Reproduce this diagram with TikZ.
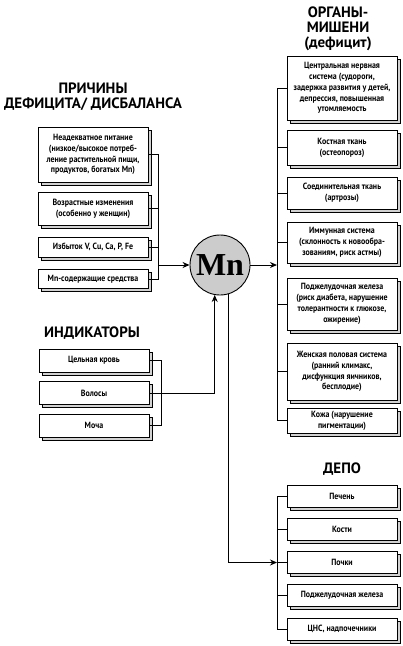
\documentclass[tikz,border=0pt]{standalone}
\usepackage{fontspec}
\setmainfont{PT Sans}
\newfontfamily\boxfont[FakeStretch=0.88]{PT Sans}
\newfontfamily\mnfont{Liberation Serif}
\usetikzlibrary{shadows,arrows.meta}
\tikzset{
  box/.style={draw, line width=0.8pt, fill=white, minimum width=110pt, align=center,
    inner sep=1pt, font=\boxfont\bfseries\fontsize{9}{10.8}\selectfont,
    copy shadow={shadow xshift=3pt, shadow yshift=-3pt, fill=gray!35, draw=black, line width=0.8pt}},
  title/.style={font=\bfseries\fontsize{15}{15}\selectfont, align=center},
  link/.style={line width=1pt},
  arrow/.style={link, -{Stealth[length=7pt,width=6pt]}}
}
\begin{document}
\begin{tikzpicture}[x=1pt, y=-1pt]
    \useasboundingbox (0,0) rectangle (403,646);

    % 見出し
    \node[title] (tcause) at (93,97) {ПРИЧИНЫ\\ДЕФИЦИТА/ ДИСБАЛАНСА};
    \node[title] (torgan) at (338,29) {ОРГАНЫ-\\МИШЕНИ\\(дефицит)};
    \node[title] (tind) at (92,333) {ИНДИКАТОРЫ};
    \node[title] (tdepot) at (342,469) {ДЕПО};

    % 中心
    \node[circle, draw, line width=0.9pt, fill=gray!40, minimum size=60pt, inner sep=0pt,
      font=\mnfont\bfseries\fontsize{32}{32}\selectfont] (mn) at (220,265) {Mn};

    % 原因
    \node[box, minimum height=55pt] (c1) at (93,154.5) {Неадекватное питание\\(низкое/высокое потреб-\\ление растительной пищи,\\продуктов, богатых Mn)};
    \node[box, minimum height=33pt] (c2) at (93,208.5) {Возрастные изменения\\(особенно у женщин)};
    \node[box, minimum height=20pt] (c3) at (93,247) {Избыток V, Cu, Ca, P, Fe};
    \node[box, minimum height=19pt] (c4) at (93,279) {Mn-содержащие средства};

    % 標的臓器
    \node[box, minimum height=64pt] (o1) at (342,88) {Центральная нервная\\система (судороги,\\задержка развития у детей,\\депрессия, повышенная\\утомляемость};
    \node[box, minimum height=35pt] (o2) at (342,147.5) {Костная ткань\\(остеопороз)};
    \node[box, minimum height=32pt] (o3) at (342,193) {Соединительная ткань\\(артрозы)};
    \node[box, minimum height=41pt] (o4) at (342,242.5) {Иммунная система\\(склонность к новообра-\\зованиям, риск астмы)};
    \node[box, minimum height=52pt] (o5) at (342,304) {Поджелудочная железа\\(риск диабета, нарушение\\толерантности к глюкозе,\\ожирение)};
    \node[box, minimum height=57pt] (o6) at (342,371.5) {Женская половая система\\(ранний климакс,\\дисфункция яичников,\\бесплодие)};
    \node[box, minimum height=25pt] (o7) at (342,420.5) {Кожа (нарушение\\пигментации)};

    % 指標
    \node[box, minimum height=23pt] (i1) at (94,360.5) {Цельная кровь};
    \node[box, minimum height=23pt] (i2) at (94,393) {Волосы};
    \node[box, minimum height=23pt] (i3) at (94,425.5) {Моча};

    % 貯蔵
    \node[box, minimum height=22pt] (d1) at (342,496) {Печень};
    \node[box, minimum height=22pt] (d2) at (342,529) {Кости};
    \node[box, minimum height=22pt] (d3) at (342,562.5) {Почки};
    \node[box, minimum height=22pt] (d4) at (342,595.5) {Поджелудочная железа};
    \node[box, minimum height=22pt] (d5) at (342,629) {ЦНС, надпочечники};

    \coordinate (cbus) at (158,265);
    \coordinate (obus) at (277,265);
    \coordinate (ibus) at (161,393);
    \coordinate (dbus) at (277,562.5);

    % 線を引く
    \draw[link] (c1.east) -- (c1.east -| cbus) -- (c4.east -| cbus) -- (c4.east);
    \foreach \n in {c2,c3}
      \draw[link] (\n.east) -- (\n.east -| cbus);
    \draw[arrow] (cbus) -- (mn.west);

    \draw[arrow] (mn.east) -- (obus);
    \draw[link] (o1.west -| obus) -- (o7.west -| obus);
    \foreach \n in {o1,o2,o3,o4,o5,o6,o7}
      \draw[link] (\n.west -| obus) -- (\n.west);

    \draw[link] (i1.east) -- (i1.east -| ibus) -- (i3.east -| ibus) -- (i3.east);
    \draw[arrow] (i2.east) -| (mn.-100);

    \draw[arrow] (mn.-73) |- (dbus);
    \draw[link] (d1.west -| dbus) -- (d5.west -| dbus);
    \foreach \n in {d1,d2,d3,d4,d5}
      \draw[link] (\n.west -| dbus) -- (\n.west);
\end{tikzpicture}
\end{document}
